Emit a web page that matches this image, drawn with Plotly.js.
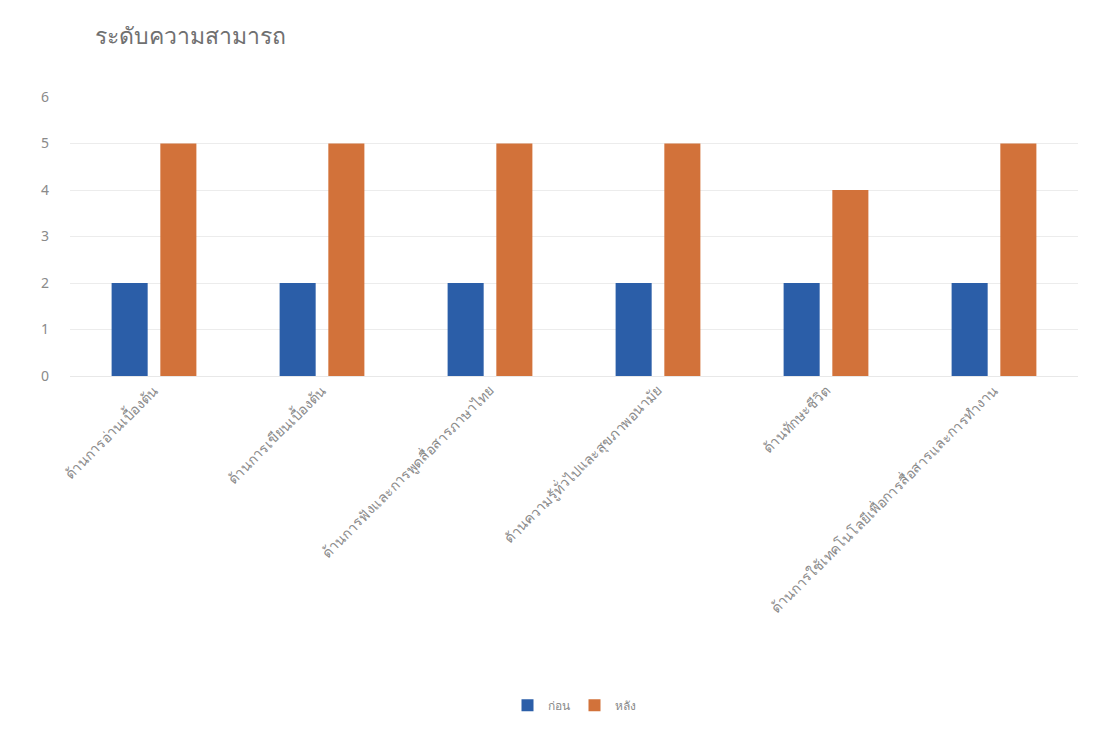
<!DOCTYPE html>
<html>
<head>
<meta charset="utf-8">
<script src="https://cdn.plot.ly/plotly-3.0.1.min.js"></script>
<style>html,body{margin:0;padding:0;background:#fff;}#chart{width:1095px;height:739px;}</style>
</head>
<body>
<div id="chart"></div>
<script>
const categories = [
  "ด้านการอ่านเบื้องต้น",
  "ด้านการเขียนเบื้องต้น",
  "ด้านการฟังและการพูดสื่อสารภาษาไทย",
  "ด้านความรู้ทั่วไปและสุขภาพอนามัย",
  "ด้านทักษะชีวิต",
  "ด้านการใช้เทคโนโลยีเพื่อการสื่อสารและการทำงาน"
];
const seriesNames = ["ก่อน", "หลัง"];
const beforeValues = [2, 2, 2, 2, 2, 2];
const afterValues = [5, 5, 5, 5, 4, 5];
const yTicks = [0, 1, 2, 3, 4, 5, 6];

const font = "Noto Sans, Tahoma, sans-serif";
const data = [
  {type: "bar", name: seriesNames[0], x: categories, y: beforeValues, marker: {color: "#2b5ea8"}},
  {type: "bar", name: seriesNames[1], x: categories, y: afterValues, marker: {color: "#d2723a"}}
];
const layout = {
  width: 1095, height: 739,
  paper_bgcolor: "#ffffff", plot_bgcolor: "#ffffff",
  font: {family: font, color: "#8a8a8a", size: 11},
  title: {text: "ระดับความสามารถ", x: 0.087, xanchor: "left", y: 0.952, yanchor: "middle",
          font: {family: font, size: 23, color: "#707070"}},
  margin: {l: 70, r: 17, t: 97, b: 363},
  barmode: "group", bargap: 0.42, bargroupgap: 0.26,
  xaxis: {tickangle: -45, showgrid: false, showline: true, linecolor: "#e8e8e8",
          ticks: "", tickfont: {size: 14, color: "#8a8a8a"}, automargin: false},
  yaxis: {range: [0, 6], tickvals: yTicks, showgrid: true, gridcolor: "#ececec", zeroline: false,
          ticks: "", tickfont: {size: 14, color: "#8a8a8a"}, ticklabelstandoff: 20},
  legend: {orientation: "h", x: 0.5, xanchor: "center", y: -1.18, yanchor: "middle",
           font: {size: 12, color: "#8a8a8a"}}
};
Plotly.newPlot("chart", data, layout, {displayModeBar: false, staticPlot: true});
</script>
</body>
</html>
